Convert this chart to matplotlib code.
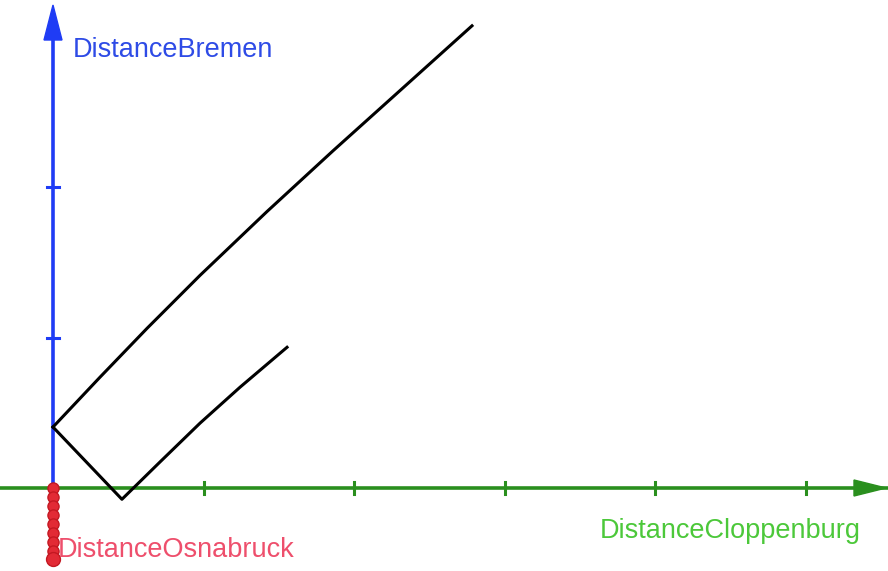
import numpy as np
import matplotlib
matplotlib.use("Agg")
import matplotlib.pyplot as plt

# units: one tick = 1
px = 150.5  # pixels per unit in the picture

# the black path (DistanceCloppenburg, DistanceBremen)
upper_x = [0.0, 0.312, 0.625, 0.977, 1.422, 1.860, 2.306, 2.784]
upper_y = [0.405, 0.736, 1.061, 1.413, 1.837, 2.240, 2.641, 3.071]
lower_x = [0.0, 0.458, 0.711, 0.977, 1.243, 1.555]
lower_y = [0.405, -0.075, 0.173, 0.431, 0.670, 0.935]

x_ticks = [1, 2, 3, 4, 5]
y_ticks = [1, 2]
osna_pts = [0.0, -0.06, -0.12, -0.18, -0.24, -0.30, -0.36, -0.42, -0.47]

green = "#2a8f1e"
blue = "#1f3cf5"
red = "#e22a35"

fig = plt.figure(figsize=(8.88, 5.71), dpi=100)
ax = fig.add_axes([0, 0, 1, 1])
ax.set_xlim(-53 / px, 835 / px)
ax.set_ylim(-83 / px, 488 / px)
ax.axis("off")

tk = 6 / px
# green axis
ax.plot([-53 / px, 805 / px + 0.2], [0, 0], color=green, lw=2.6, solid_capstyle="butt", zorder=2)
ax.fill([801 / px, 833 / px, 801 / px], [8 / px, 0, -8 / px], color=green, zorder=3)
for t in x_ticks:
    ax.plot([t, t], [-tk, tk], color=green, lw=2.2, zorder=2)

# blue axis
ax.plot([0, 0], [0, 450 / px], color=blue, lw=2.6, solid_capstyle="butt", zorder=2)
ax.fill([-9 / px, 0, 9 / px], [448 / px, 483 / px, 448 / px], color=blue, zorder=3)
for t in y_ticks:
    ax.plot([-tk, tk], [t, t], color=blue, lw=2.2, zorder=2)

# red axis (points)
ax.plot([0] * len(osna_pts), osna_pts, "o", color=red, mec="#c41822", ms=8, zorder=4)
ax.plot([0], [osna_pts[-1]], "o", color=red, mec="#c41822", ms=10, zorder=4)

# the path
ax.plot(upper_x, upper_y, color="black", lw=2.2, solid_joinstyle="round", zorder=5)
ax.plot(lower_x, lower_y, color="black", lw=2.2, solid_joinstyle="round", zorder=5)

font = "Liberation Sans"
ax.text(20 / px, 431 / px, "DistanceBremen", color="#2e4be6", fontsize=19.5,
        family=font, va="baseline", ha="left")
ax.text(547 / px, -50 / px, "DistanceCloppenburg", color="#4cc83a", fontsize=19.5,
        family=font, va="baseline", ha="left")
ax.text(5 / px, -69 / px, "DistanceOsnabruck", color="#ee4f6c", fontsize=19.5,
        family=font, va="baseline", ha="left")

fig.savefig("out.png", dpi=100)
